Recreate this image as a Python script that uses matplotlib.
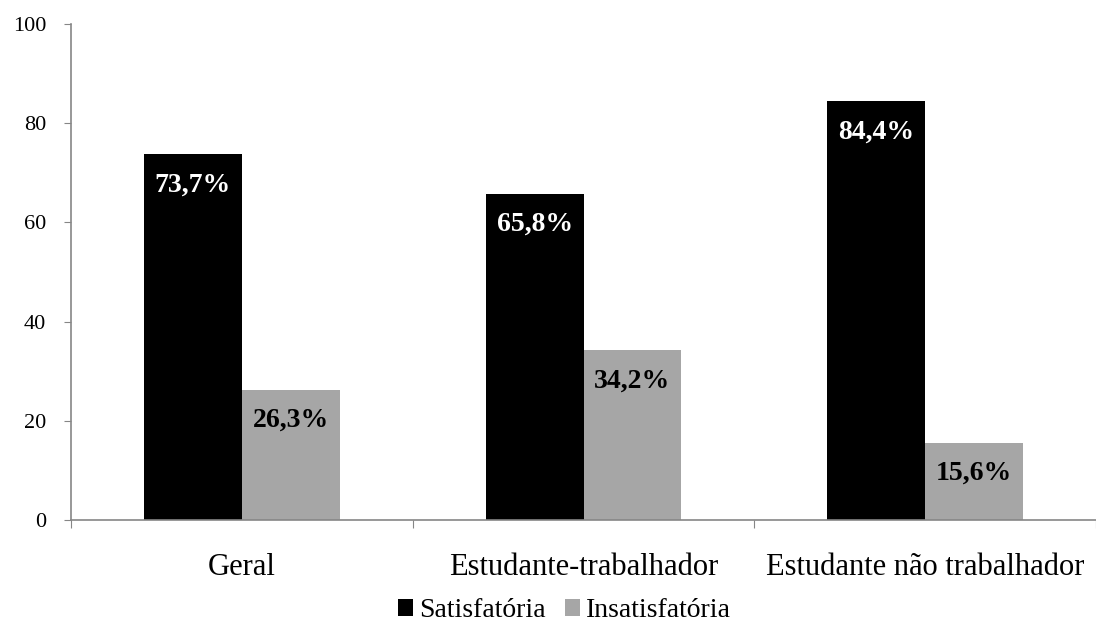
import numpy as np
import matplotlib
matplotlib.use("Agg")
import matplotlib.pyplot as plt

categories = ["Geral", "Estudante-trabalhador", "Estudante não trabalhador"]
series_names = ["Satisfatória", "Insatisfatória"]
satisfatoria = [73.7, 65.8, 84.4]
insatisfatoria = [26.3, 34.2, 15.6]
y_ticks = [0, 20, 40, 60, 80, 100]

plt.rcParams["font.family"] = ["Liberation Serif", "DejaVu Serif"]
axis_color = "#868686"

fig = plt.figure(figsize=(10.96, 6.28), dpi=100)
ax = fig.add_axes([0.0648, 0.172, 0.9352, 0.79])

x = np.arange(len(categories))
w = 0.286
b1 = ax.bar(x - w / 2, satisfatoria, w, color="#000000", label=series_names[0])
b2 = ax.bar(x + w / 2, insatisfatoria, w, color="#A6A6A6", label=series_names[1])

# value labels just inside the top of each bar
for bars, vals, col in [(b1, satisfatoria, "white"), (b2, insatisfatoria, "black")]:
    for rect, v in zip(bars, vals):
        ax.annotate(f"{v:.1f}%".replace(".", ","),
                    (rect.get_x() + rect.get_width() / 2, v),
                    xytext=(0, -22), textcoords="offset points",
                    ha="center", va="center", color=col,
                    fontsize=20, fontweight="bold")

ax.set_xlim(-0.5, len(categories) - 0.5)
ax.set_ylim(0, 100)
ax.set_yticks(y_ticks)
ax.tick_params(axis="y", labelsize=16, length=5, color=axis_color, pad=13)

# separators between groups as major ticks, names on minor ticks
ax.set_xticks(np.arange(len(categories) + 1) - 0.5)
ax.set_xticklabels([])
ax.set_xticks(x, minor=True)
ax.set_xticklabels(categories, minor=True)
ax.tick_params(axis="x", which="major", length=6, color=axis_color)
ax.tick_params(axis="x", which="minor", length=0, labelsize=22, pad=24)

for side in ["top", "right"]:
    ax.spines[side].set_visible(False)
for side in ["left", "bottom"]:
    ax.spines[side].set_color(axis_color)
    ax.spines[side].set_linewidth(1.2)

fig.legend(loc="lower center", bbox_to_anchor=(0.515, -0.032), ncol=2,
           frameon=False, fontsize=20,
           handlelength=0.55, handleheight=0.55,
           handletextpad=0.2, columnspacing=0.7)

fig.savefig("out.png", dpi=100)
